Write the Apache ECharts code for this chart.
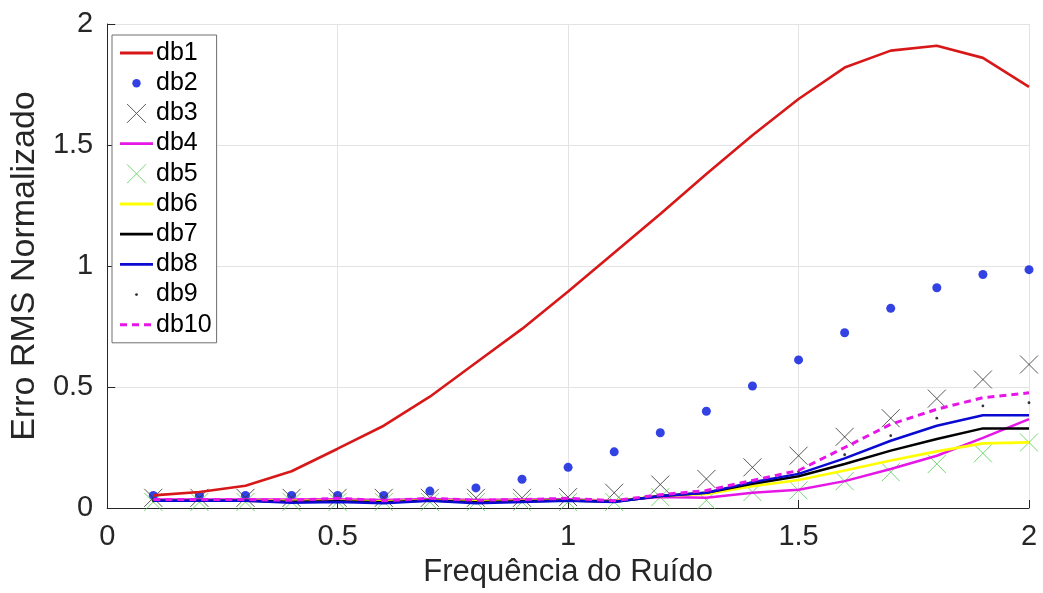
<!DOCTYPE html>
<html>
<head>
<meta charset="utf-8">
<title>Erro RMS Normalizado</title>
<script src="https://cdn.jsdelivr.net/npm/echarts@6/dist/echarts.min.js"></script>
<style>
  html, body { margin: 0; padding: 0; background: #fff; }
  #chart { width: 1043px; height: 593px; }
</style>
</head>
<body>
<div id="chart"></div>
<script>
// Noise frequency (x) and normalised RMS error for each database
const freq = [0.1, 0.2, 0.3, 0.4, 0.5, 0.6, 0.7, 0.8, 0.9, 1.0,
              1.1, 1.2, 1.3, 1.4, 1.5, 1.6, 1.7, 1.8, 1.9, 2.0];

const db1  = [0.052, 0.066, 0.092, 0.152, 0.245, 0.34, 0.46, 0.60, 0.74, 0.895,
              1.055, 1.215, 1.38, 1.54, 1.69, 1.82, 1.89, 1.91, 1.86, 1.74];
const db2  = [0.052, 0.052, 0.052, 0.052, 0.052, 0.052, 0.07, 0.083, 0.119, 0.168,
              0.232, 0.311, 0.40, 0.504, 0.612, 0.724, 0.825, 0.91, 0.965, 0.985];
const db3  = [0.042, 0.042, 0.042, 0.042, 0.042, 0.042, 0.042, 0.042, 0.042, 0.045,
              0.063, 0.097, 0.12, 0.168, 0.216, 0.294, 0.371, 0.452, 0.531, 0.593];
const db4  = [0.035, 0.035, 0.035, 0.035, 0.036, 0.033, 0.037, 0.033, 0.035, 0.036,
              0.03, 0.045, 0.042, 0.063, 0.075, 0.111, 0.161, 0.216, 0.29, 0.367];
const db5  = [0.025, 0.025, 0.025, 0.025, 0.025, 0.025, 0.025, 0.025, 0.025, 0.025,
              0.025, 0.045, 0.032, 0.066, 0.073, 0.111, 0.148, 0.182, 0.226, 0.271];
const db6  = [0.03, 0.03, 0.03, 0.03, 0.03, 0.028, 0.032, 0.028, 0.03, 0.032,
              0.028, 0.05, 0.058, 0.09, 0.116, 0.155, 0.196, 0.234, 0.267, 0.271];
const db7  = [0.03, 0.03, 0.03, 0.026, 0.028, 0.024, 0.031, 0.024, 0.028, 0.031,
              0.026, 0.05, 0.063, 0.10, 0.131, 0.182, 0.237, 0.285, 0.329, 0.329];
const db8  = [0.03, 0.03, 0.03, 0.022, 0.025, 0.02, 0.03, 0.02, 0.025, 0.03,
              0.025, 0.05, 0.063, 0.107, 0.141, 0.205, 0.278, 0.34, 0.383, 0.383];
const db9  = [0.03, 0.03, 0.03, 0.028, 0.03, 0.026, 0.033, 0.026, 0.03, 0.033,
              0.028, 0.052, 0.068, 0.11, 0.15, 0.22, 0.299, 0.371, 0.422, 0.435];
const db10 = [0.035, 0.035, 0.035, 0.032, 0.04, 0.03, 0.04, 0.032, 0.035, 0.04,
              0.03, 0.055, 0.072, 0.114, 0.155, 0.25, 0.346, 0.408, 0.456, 0.476];

const names = ['db1', 'db2', 'db3', 'db4', 'db5', 'db6', 'db7', 'db8', 'db9', 'db10'];

const xTicks = ['0', '0.5', '1', '1.5', '2'];
const yTicks = ['0', '0.5', '1', '1.5', '2'];

const FONT = '"Liberation Sans", Arial, Helvetica, sans-serif';
const AXIS_COLOR = '#262626';
const GRID_COLOR = '#e3e3e3';

const pairs = ys => freq.map((x, i) => [x, ys[i]]);

// Thin "x" marker drawn as a stroked path
const CROSS = 'path://M0,0L10,10M10,0L0,10';

// Small SVG legend icons (33 x 20)
function svgIcon(body) {
  const svg = "<svg xmlns='http://www.w3.org/2000/svg' width='33' height='20' viewBox='0 0 33 20'>" + body + '</svg>';
  return 'image://data:image/svg+xml;charset=utf-8,' + encodeURIComponent(svg);
}
const iconDot = (c, r) => svgIcon("<circle cx='16.5' cy='10' r='" + r + "' fill='" + c + "'/>");
const iconCross = c => svgIcon("<path d='M7,0.5L26,19.5M26,0.5L7,19.5' stroke='" + c + "' stroke-width='1' fill='none'/>");
const iconLine = (c, w, dash) => svgIcon("<line x1='0' y1='10' x2='33' y2='10' stroke='" + c +
  "' stroke-width='" + w + "'" + (dash ? " stroke-dasharray='" + dash + "'" : '') + '/>');

function lineSeries(name, ys, color, width, type) {
  return {
    name, type: 'line', data: pairs(ys),
    symbol: 'none', showSymbol: false, smooth: false,
    lineStyle: { color, width, type: type || 'solid' },
    itemStyle: { color },
    animation: false
  };
}
function markerSeries(name, ys, symbol, size, color, stroke) {
  const s = {
    name, type: 'scatter', data: pairs(ys), symbol, symbolSize: size,
    animation: false
  };
  s.itemStyle = stroke
    ? { color: 'rgba(0,0,0,0)', borderColor: color, borderWidth: 1 }
    : { color };
  return s;
}

const C = {
  red: '#d81818', blue: '#0014dc', gray: '#303030', magenta: '#e616e6',
  green: '#50cc50', yellow: '#ffff00', black: '#000000', navy: '#0a0ad2'
};

const series = [
  lineSeries('db1', db1, C.red, 2.6),
  markerSeries('db2', db2, 'circle', 9, C.blue, false),
  markerSeries('db3', db3, CROSS, 18, C.gray, true),
  lineSeries('db4', db4, C.magenta, 2.5),
  markerSeries('db5', db5, CROSS, 18, C.green, true),
  lineSeries('db6', db6, C.yellow, 2.6),
  lineSeries('db7', db7, C.black, 2.5),
  lineSeries('db8', db8, C.navy, 2.5),
  markerSeries('db9', db9, 'circle', 2.8, C.black, false),
  lineSeries('db10', db10, C.magenta, 3, [7, 5])
];

const legendIcons = {
  db1: iconLine(C.red, 2.8),
  db2: iconDot(C.blue, 4.2),
  db3: iconCross(C.gray),
  db4: iconLine(C.magenta, 2.8),
  db5: iconCross(C.green),
  db6: iconLine(C.yellow, 3),
  db7: iconLine(C.black, 2.8),
  db8: iconLine(C.navy, 2.8),
  db9: iconDot(C.black, 1.4),
  db10: iconLine(C.magenta, 3, '7,5')
};

const chart = echarts.init(document.getElementById('chart'), null, { renderer: 'canvas' });
chart.setOption({
  backgroundColor: '#ffffff',
  animation: false,
  textStyle: { fontFamily: FONT },
  grid: { left: 97, right: 14, top: 24, bottom: 82, containLabel: false },
  legend: {
    orient: 'vertical', left: 112, top: 35,
    padding: [3, 5, 3, 8],
    itemWidth: 33, itemHeight: 20, itemGap: 0.2,
    borderColor: '#6e6e6e', borderWidth: 1, backgroundColor: '#ffffff',
    selectedMode: false,
    textStyle: { fontFamily: FONT, fontSize: 25, color: '#000', lineHeight: 30, padding: [0, 0, 0, -2] },
    data: names.map(n => ({ name: n, icon: legendIcons[n] }))
  },
  xAxis: {
    type: 'value', min: 0, max: 2, interval: 0.5,
    name: 'Frequência do Ruído', nameLocation: 'middle', nameGap: 49,
    nameTextStyle: { fontFamily: FONT, fontSize: 31, color: AXIS_COLOR },
    axisLine: { show: true, onZero: false, lineStyle: { color: AXIS_COLOR, width: 1 } },
    axisTick: { show: true, inside: true, length: 8, lineStyle: { color: AXIS_COLOR } },
    axisLabel: {
      fontFamily: FONT, fontSize: 29, color: AXIS_COLOR, margin: 14,
      formatter: v => xTicks[Math.round(v / 0.5)]
    },
    splitLine: { show: true, lineStyle: { color: GRID_COLOR, width: 1 } }
  },
  yAxis: {
    type: 'value', min: 0, max: 2, interval: 0.5,
    name: 'Erro RMS Normalizado', nameLocation: 'middle', nameGap: 37,
    nameTextStyle: { fontFamily: FONT, fontSize: 34, color: AXIS_COLOR },
    axisLine: { show: true, onZero: false, lineStyle: { color: AXIS_COLOR, width: 1 } },
    axisTick: { show: true, inside: true, length: 8, lineStyle: { color: AXIS_COLOR } },
    axisLabel: {
      fontFamily: FONT, fontSize: 29, color: AXIS_COLOR, margin: 14,
      formatter: v => yTicks[Math.round(v / 0.5)]
    },
    splitLine: { show: true, lineStyle: { color: GRID_COLOR, width: 1 } }
  },
  series
});
</script>
</body>
</html>
